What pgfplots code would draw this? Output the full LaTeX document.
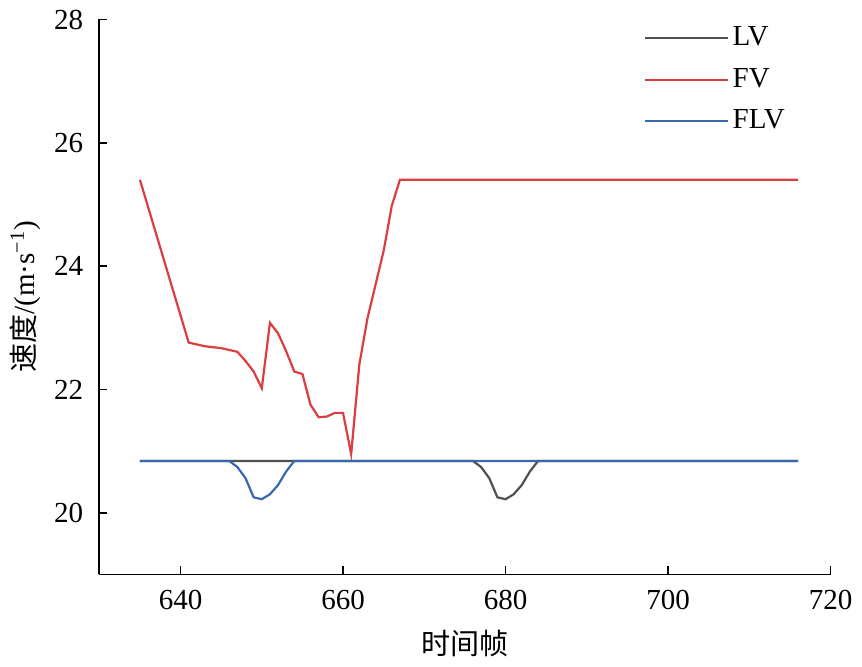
\documentclass[border=0pt]{standalone}
\usepackage{fontspec}
\setmainfont{Liberation Serif}
\newfontfamily\cjk{Noto Sans CJK SC}
\usepackage{pgfplots}
\pgfplotsset{compat=1.18}
\definecolor{cLV}{RGB}{80,80,80}
\definecolor{cFV}{RGB}{218,62,66}
\definecolor{cFLV}{RGB}{58,104,172}
\begin{document}
\fontsize{14.5}{17}\selectfont
\begin{tikzpicture}
\begin{axis}[
  scale only axis,
  width=365pt, height=277pt,
  xmin=630, xmax=720, ymin=19, ymax=28,
  xtick={640,660,680,700,720},
  ytick={20,22,24,26,28},
  axis x line*=bottom, axis y line*=left,
  axis line style={line width=0.9pt, -},
  tick align=inside,
  major tick length=4pt,
  tick style={line width=0.9pt, black},
  /pgf/number format/assume math mode=true,
  /pgf/number format/1000 sep={},
  tick label style={font=\fontsize{14.5}{17}\selectfont},
  xticklabel style={yshift=-3pt},
  yticklabel style={xshift=-3pt},
  xlabel={\cjk 时间帧},
  ylabel={{\cjk 速度}/(m·s\textsuperscript{−1})},
  label style={font=\fontsize{14.5}{17}\selectfont},
  xlabel style={yshift=0pt},
  ylabel style={yshift=-3pt},
  legend style={at={(0.745,0.995)}, anchor=north west, draw=none, fill=none,
    font=\fontsize{14.5}{17}\selectfont, row sep=5pt, inner sep=0pt,
    /tikz/every even column/.append style={column sep=6pt}},
  legend cell align=left,
  legend image code/.code={\draw[#1, line width=1pt] (0pt,0pt) -- (41pt,0pt);},
  every axis plot/.append style={line width=1.1pt},
]
\addplot[cLV] coordinates {
(635,20.84) (676,20.84) (677,20.74) (678,20.56) (679,20.25) (680,20.22)
(681,20.30) (682,20.45) (683,20.67) (684,20.84) (716,20.84)
};
\addlegendentry{LV}
\addplot[cFV] coordinates {
(635,25.40) (641,22.76) (643,22.70) (645,22.67) (647,22.61) (648,22.46)
(649,22.29) (650,22.02) (651,23.08) (652,22.91) (653,22.62) (654,22.29)
(655,22.25) (656,21.75) (657,21.55) (658,21.56) (659,21.62) (660,21.62)
(661,20.95) (662,22.40) (663,23.15) (664,23.70) (665,24.25) (666,24.98)
(667,25.40) (716,25.40)
};
\addlegendentry{FV}
\addplot[cFLV] coordinates {
(635,20.84) (646,20.84) (647,20.74) (648,20.56) (649,20.25) (650,20.22)
(651,20.30) (652,20.45) (653,20.67) (654,20.84) (716,20.84)
};
\addlegendentry{FLV}
\end{axis}
\end{tikzpicture}
\end{document}
